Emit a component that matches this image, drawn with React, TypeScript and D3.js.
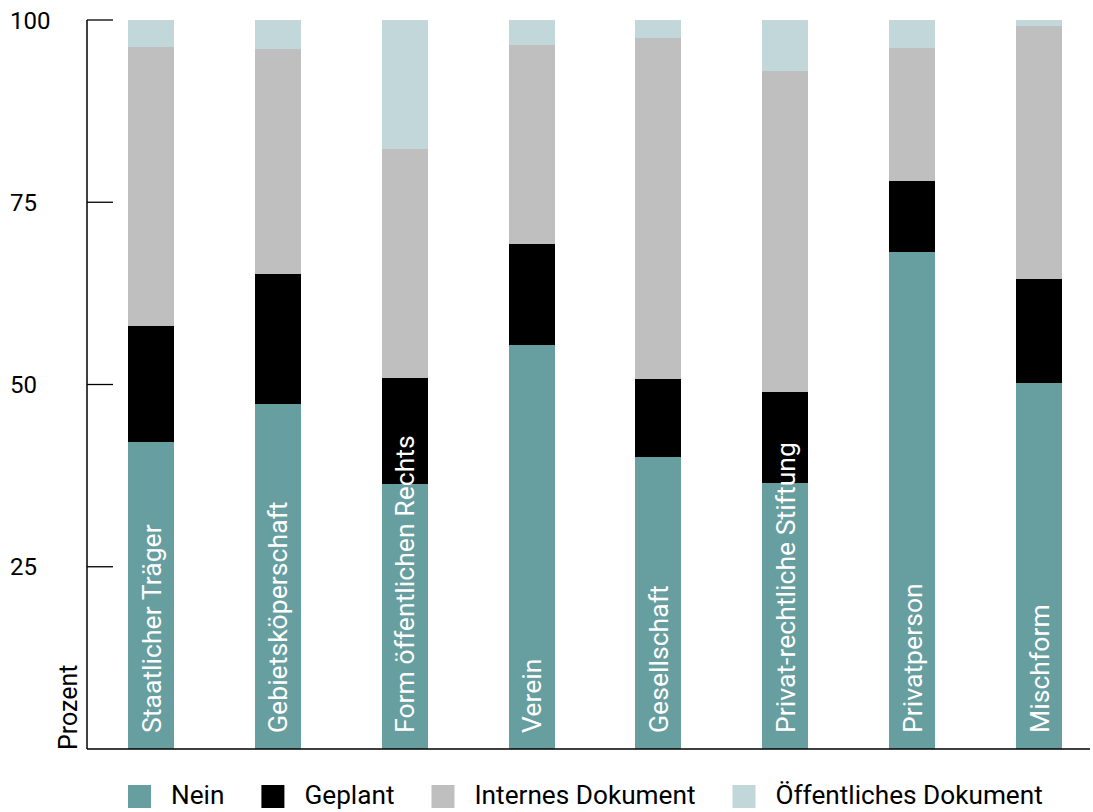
import { useEffect, useRef } from 'react'
import * as d3 from 'd3'

const categories = [
  'Staatlicher Träger',
  'Gebietsköperschaft',
  'Form öffentlichen Rechts',
  'Verein',
  'Gesellschaft',
  'Privat-rechtliche Stiftung',
  'Privatperson',
  'Mischform',
]

const seriesNames = ['Nein', 'Geplant', 'Internes Dokument', 'Öffentliches Dokument']
const seriesColors = ['#679e9f', '#000000', '#bfbfbf', '#c1d7da']

const nein = [42.1, 47.3, 36.4, 55.4, 40.1, 36.5, 68.2, 50.2]
const geplant = [15.9, 17.9, 14.5, 13.9, 10.7, 12.5, 9.7, 14.3]
const internes = [38.3, 30.8, 31.4, 27.3, 46.7, 44.0, 18.3, 34.7]
const oeffentliches = [3.7, 4.0, 17.7, 3.4, 2.5, 7.0, 3.8, 0.8]

const yTicks = [25, 50, 75, 100]

const FONT = 'Roboto, "Liberation Sans", sans-serif'

export default function App() {
  const ref = useRef<SVGSVGElement>(null)

  useEffect(() => {
    if (!ref.current) return
    document.body.style.margin = '0'

    const svg = d3.select(ref.current)
    svg.selectAll('*').remove()

    const width = 1093
    const height = 812

    svg.attr('width', width).attr('height', height).attr('viewBox', `0 0 ${width} ${height}`)

    const rows = categories.map((c, i) => ({
      cat: c,
      'Nein': nein[i],
      'Geplant': geplant[i],
      'Internes Dokument': internes[i],
      'Öffentliches Dokument': oeffentliches[i],
    }))

    const x = d3.scaleBand<string>().domain(categories).range([128, 1062]).paddingInner(0.637).paddingOuter(0)
    const y = d3.scaleLinear().domain([0, 100]).range([749, 20])

    const stack = d3.stack<any>().keys(seriesNames)(rows)

    // bars
    stack.forEach((layer, li) => {
      svg.append('g')
        .attr('fill', seriesColors[li])
        .selectAll('rect')
        .data(layer)
        .join('rect')
        .attr('x', d => x(d.data.cat)!)
        .attr('width', x.bandwidth())
        .attr('y', d => y(d[1]))
        .attr('height', d => y(d[0]) - y(d[1]))
        .attr('shape-rendering', 'crispEdges')
    })

    // category labels inside bars
    svg.append('g')
      .selectAll('text')
      .data(categories)
      .join('text')
      .attr('transform', d => `translate(${x(d)! + x.bandwidth() / 2},733) rotate(-90)`)
      .attr('dy', '0.36em')
      .attr('fill', '#ffffff')
      .attr('font-family', FONT)
      .attr('font-size', 26.6)
      .text(d => d)

    // y axis
    const axis = svg.append('g')
    axis.append('line')
      .attr('x1', 87).attr('x2', 87)
      .attr('y1', y(100)).attr('y2', y(0))
      .attr('stroke', '#000').attr('stroke-width', 1.5)
    axis.append('line')
      .attr('x1', 87).attr('x2', 1090)
      .attr('y1', y(0)).attr('y2', y(0))
      .attr('stroke', '#000').attr('stroke-width', 1.5)

    axis.selectAll('line.tick')
      .data(yTicks)
      .join('line')
      .attr('class', 'tick')
      .attr('x1', 87).attr('x2', 113)
      .attr('y1', d => y(d)).attr('y2', d => y(d))
      .attr('stroke', '#000').attr('stroke-width', 1.3)

    axis.selectAll('text.tick')
      .data(yTicks)
      .join('text')
      .attr('class', 'tick')
      .attr('x', 10)
      .attr('y', d => y(d))
      .attr('dy', '0.36em')
      .attr('font-family', FONT)
      .attr('font-size', 24)
      .attr('fill', '#000')
      .text(d => d)

    svg.append('text')
      .attr('transform', 'translate(68,750) rotate(-90)')
      .attr('dy', '0.36em')
      .attr('font-family', FONT)
      .attr('font-size', 25)
      .attr('fill', '#000')
      .text('Prozent')

    // legend
    const legend = svg.append('g')
    let lx = 128
    seriesNames.forEach((name, i) => {
      legend.append('rect')
        .attr('x', lx).attr('y', 785)
        .attr('width', 23).attr('height', 23)
        .attr('fill', seriesColors[i])
      const t = legend.append('text')
        .attr('x', lx + 43).attr('y', 804)
        .attr('font-family', FONT)
        .attr('font-size', 26.2)
        .attr('fill', '#000')
        .text(name)
      const w = (t.node() as SVGTextElement).getComputedTextLength()
      lx += 43 + w + 37
    })
  }, [])

  return <svg ref={ref} style={{ display: 'block' }} />
}
